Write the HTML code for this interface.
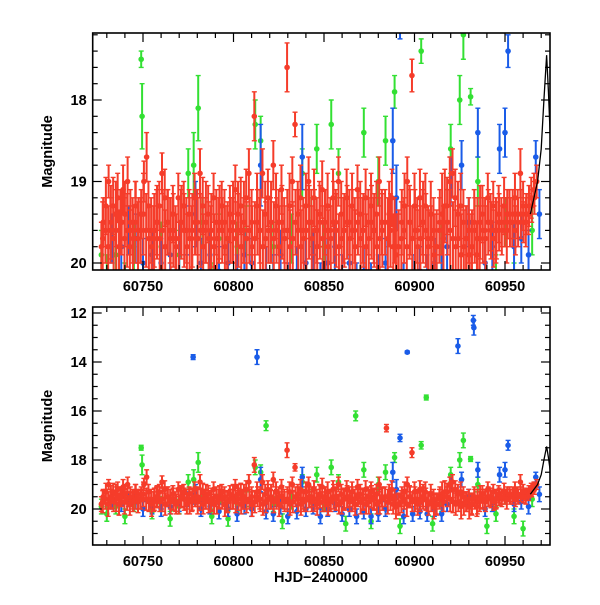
<!DOCTYPE html>
<html><head><meta charset="utf-8"><style>
body{margin:0;background:#fff}
svg text{font-family:"Liberation Sans",sans-serif;font-size:14.5px;fill:#000;font-weight:bold}
</style></head><body>
<svg id="chart" width="600" height="600" xmlns="http://www.w3.org/2000/svg"></svg>
<script>
const redT=[60727,60728,60729.5,60731,60732,60733.5,60735,60736,60737.5,60739,60740,60741.5,60743,60744.5,60746,60747.5,60749,60750.5,60752,60753,60754.5,60756,60757.5,60759,60760.5,60762,60763.5,60765,60766.5,60768,60769.5,60771,60772.5,60774,60775.5,60777,60778.5,60780,60781.5,60783,60784.5,60786,60787.5,60789,60790.5,60792,60793.5,60795,60796.5,60798,60799.5,60801,60802.5,60804,60805.5,60807,60808.5,60810,60811.5,60813,60814.5,60816,60817.5,60819,60820.5,60822,60823.5,60825,60826.5,60828,60829.6,60831,60832.5,60834,60835.5,60837,60838.5,60840,60841.5,60843,60844.5,60846,60847.5,60849,60850.5,60852,60853.5,60855,60856.5,60858,60859.5,60861,60862.5,60864,60865.5,60867,60868.5,60870,60871.5,60873,60874.5,60876,60877.5,60879,60880.5,60882,60884.5,60886,60887.5,60889,60891,60893,60894.5,60896,60897.5,60898.6,60900,60901.5,60903,60904.5,60906,60907.5,60909,60910.5,60912,60914,60916,60918,60919.5,60921,60922.5,60924,60925.5,60927,60928.5,60930,60931.5,60933,60934.5,60936,60937.5,60939,60940.5,60942,60943.5,60945,60946.5,60948,60949.5,60951,60952.5,60954,60955.5,60957,60958.5,60960,60961.5,60963,60964.5,60966,60967.5];
const redM=[19.8,19.5,19.3,19.0,19.6,19.3,19.4,19.2,19.5,19.1,19.4,19.0,19.5,19.7,19.3,19.6,19.4,19.0,18.7,19.3,19.6,19.7,19.5,19.3,18.9,19.2,19.5,19.6,19.4,19.7,19.2,19.5,19.3,19.6,19.4,19.7,19.2,19.5,18.9,19.3,19.6,19.4,19.7,19.2,19.5,19.6,19.3,19.5,19.7,19.4,19.6,19.1,19.4,19.3,19.6,19.2,18.9,19.5,18.2,19.3,19.6,18.9,19.4,19.2,19.6,18.8,19.3,19.5,19.1,19.6,17.6,19.3,19.0,18.3,19.4,19.2,19.6,19.3,19.0,19.5,19.2,19.6,19.4,19.1,19.5,19.3,19.6,19.2,19.5,19.0,19.4,19.6,19.2,19.5,19.3,19.6,19.1,19.4,19.6,19.2,19.5,19.3,19.6,19.4,19.0,19.5,16.7,19.4,19.2,19.6,19.8,19.5,19.3,19.0,19.5,17.7,19.3,19.6,19.2,19.5,19.3,19.7,19.4,19.6,19.8,19.5,19.7,19.3,19.0,18.9,19.2,19.4,19.3,19.5,19.7,19.6,19.8,19.5,19.9,19.7,19.4,19.6,19.2,19.5,19.3,19.6,19.4,19.5,19.3,19.6,19.4,19.5,19.2,19.4,18.9,19.3,19.5,19.4,19.2,19.1,19.0];
const redE=[.3,.3,.35,.2,.4,.35,.4,.3,.4,.3,.4,.3,.4,.4,.3,.4,.3,.25,.3,.3,.4,.4,.4,.3,.25,.35,.4,.4,.35,.4,.3,.4,.3,.4,.3,.4,.3,.4,.3,.35,.4,.35,.4,.3,.4,.4,.3,.4,.4,.35,.4,.3,.4,.35,.4,.35,.3,.4,.3,.4,.4,.3,.4,.35,.4,.3,.4,.4,.3,.4,.3,.4,.3,.15,.4,.4,.4,.4,.3,.4,.35,.4,.4,.35,.4,.4,.4,.35,.4,.3,.4,.4,.35,.4,.4,.4,.3,.4,.4,.35,.4,.4,.4,.4,.3,.4,.15,.4,.35,.4,.4,.4,.4,.3,.4,.2,.4,.4,.35,.4,.4,.4,.4,.4,.4,.4,.4,.35,.3,.3,.35,.4,.4,.4,.4,.4,.4,.4,.4,.4,.35,.4,.3,.35,.3,.4,.35,.3,.35,.4,.3,.3,.3,.3,.3,.3,.3,.25,.25,.2,.2];
const redT2=[60727.75,60729.25,60730.75,60732.25,60733.75,60735.25,60736.75,60738.25,60739.75,60741.25,60742.75,60744.25,60745.75,60747.25,60748.75,60750.25,60751.75,60753.25,60754.75,60756.25,60757.75,60759.25,60760.75,60762.25,60763.75,60765.25,60766.75,60768.25,60769.75,60771.25,60772.75,60774.25,60775.75,60777.25,60778.75,60780.25,60781.75,60783.25,60784.75,60786.25,60787.75,60789.25,60790.75,60792.25,60793.75,60795.25,60796.75,60798.25,60799.75,60801.25,60802.75,60804.25,60805.75,60807.25,60808.75,60810.25,60811.75,60813.25,60814.75,60816.25,60817.75,60819.25,60820.75,60822.25,60823.75,60825.25,60826.75,60828.25,60829.75,60831.25,60832.75,60834.25,60835.75,60837.25,60838.75,60840.25,60841.75,60843.25,60844.75,60846.25,60847.75,60849.25,60850.75,60852.25,60853.75,60855.25,60856.75,60858.25,60859.75,60861.25,60862.75,60864.25,60865.75,60867.25,60868.75,60870.25,60871.75,60873.25,60874.75,60876.25,60877.75,60879.25,60880.75,60882.25,60883.75,60885.25,60886.75,60888.25,60889.75,60891.25,60892.75,60894.25,60895.75,60897.25,60898.75,60900.25,60901.75,60903.25,60904.75,60906.25,60907.75,60909.25,60910.75,60912.25,60913.75,60915.25,60916.75,60918.25,60919.75,60921.25,60922.75,60924.25,60925.75,60927.25,60928.75,60930.25,60931.75,60933.25,60934.75,60936.25,60937.75,60939.25,60940.75,60942.25,60943.75,60945.25,60946.75,60948.25,60949.75,60951.25,60952.75,60954.25,60955.75,60957.25,60958.75,60960.25,60961.75,60963.25,60964.75,60966.25];
const redM2=[19.7,19.6,19.8,19.5,19.7,19.6,19.8,19.5,19.7,19.6,
19.8,19.6,19.5,19.7,19.6,19.4,19.6,19.7,19.8,19.6,
19.5,19.7,19.6,19.8,19.5,19.7,19.6,19.8,19.7,19.5,
19.6,19.8,19.7,19.6,19.5,19.7,19.6,19.8,19.5,19.7,
19.6,19.8,19.7,19.5,19.6,19.8,19.7,19.6,19.5,19.7,
19.6,19.8,19.5,19.7,19.6,19.8,19.7,19.5,19.6,19.8,
19.7,19.6,19.5,19.7,19.6,19.8,19.5,19.7,19.6,19.8,
19.7,19.5,19.6,19.8,19.7,19.6,19.5,19.7,19.6,19.8,
19.5,19.7,19.6,19.8,19.7,19.5,19.6,19.8,19.7,19.6,
19.5,19.7,19.6,19.8,19.5,19.7,19.6,19.8,19.7,19.5,
19.6,19.8,19.7,19.6,19.5,19.7,19.6,19.8,19.9,19.8,
19.7,19.6,19.8,19.5,19.7,19.6,19.8,19.7,19.5,19.6,
19.8,19.7,19.9,19.8,19.6,19.4,19.3,19.5,19.6,19.7,
19.8,19.7,19.9,19.8,19.7,19.9,19.8,19.6,19.7,19.5,
19.6,19.7,19.5,19.6,19.7,19.6,19.5,19.6,19.5,19.4,
19.5,19.4,19.6,19.5,19.4,19.5,19.4,19.3,19.3,19.2];
const redE2=[.45,.4,.5,.45,.4,.5,.45,.4,.5,.45,
.45,.4,.5,.45,.4,.5,.45,.4,.5,.45,
.45,.4,.5,.45,.4,.5,.45,.4,.5,.45,
.45,.4,.5,.45,.4,.5,.45,.4,.5,.45,
.45,.4,.5,.45,.4,.5,.45,.4,.5,.45,
.45,.4,.5,.45,.4,.5,.45,.4,.5,.45,
.45,.4,.5,.45,.4,.5,.45,.4,.5,.45,
.45,.4,.5,.45,.4,.5,.45,.4,.5,.45,
.45,.4,.5,.45,.4,.5,.45,.4,.5,.45,
.45,.4,.5,.45,.4,.5,.45,.4,.5,.45,
.45,.4,.5,.45,.4,.5,.45,.4,.5,.45,
.45,.4,.5,.45,.4,.5,.45,.4,.5,.45,
.45,.4,.5,.45,.4,.5,.45,.4,.5,.45,
.45,.4,.5,.45,.4,.5,.45,.4,.5,.45,
.4,.4,.4,.35,.35,.35,.35,.3,.3,.3,
.3,.3,.3,.3,.3,.25,.25,.25,.2,.2];
const greenT=[60727,60730,60735,60740,60745,60749,60749.5,60755,60760,60765,60770,60775,60778,60780.5,60783,60788,60792,60797,60802,60807,60812,60815,60818,60822,60827,60832,60838,60843,60846,60850,60854,60858,60862,60867.5,60872,60876,60880,60884,60889,60892,60903.7,60906.5,60910,60915,60920,60925,60927,60931,60935,60940,60945,60950,60955,60960,60965];
const greenM=[19.9,20.2,19.9,20.3,19.8,17.5,18.2,20.1,19.8,20.4,19.9,18.9,18.8,18.1,19.5,20.3,19.7,20.4,19.8,19.6,18.3,18.5,16.6,19.8,20.5,19.7,18.9,19.5,18.6,19.8,18.3,18.9,20.6,16.2,18.4,20.5,19.0,18.5,17.9,20.7,17.4,15.45,20.6,19.8,18.6,18.0,17.2,17.96,19.0,20.7,20.2,19.5,20.3,20.8,19.6];
const greenE=[.3,.3,.3,.3,.3,.1,.4,.3,.3,.3,.3,.3,.4,.4,.3,.3,.3,.3,.3,.3,.3,.3,.2,.3,.3,.3,.3,.3,.3,.3,.3,.3,.3,.2,.3,.3,.3,.3,.2,.3,.15,.1,.3,.3,.3,.3,.3,.1,.3,.3,.3,.3,.3,.3,.3];
const blueT=[60733,60738,60742,60746,60750,60755,60760,60765,60770,60774,60777.7,60779,60782,60787,60792,60797,60802,60806,60810,60813,60815,60818,60822,60826,60830,60835,60838,60840,60844,60848,60852,60856,60860,60864,60868,60872,60876,60880,60884,60888,60890,60892,60894,60896,60899,60903,60907,60911,60915,60918,60920,60924,60926,60930,60932.5,60932.8,60935,60939,60943,60947,60950,60951.7,60955,60959,60963,60967,60969];
const blueM=[19.7,19.8,19.6,19.7,20.0,19.9,20.0,19.9,19.8,19.6,13.8,19.4,20.0,19.9,20.1,20.0,20.2,19.9,20.0,13.8,18.8,20.1,20.2,19.9,20.3,20.1,18.7,20.0,19.9,20.3,20.0,19.8,20.2,20.0,20.3,20.1,20.3,20.2,20.0,18.5,19.2,17.1,20.3,13.6,20.2,20.1,20.2,20.0,20.2,19.8,19.0,13.35,18.8,19.5,12.3,12.6,18.4,20.0,19.8,18.6,18.4,17.4,19.8,19.7,19.9,18.7,19.4];
const blueE=[.3,.3,.3,.3,.3,.3,.3,.3,.3,.3,.1,.4,.3,.3,.3,.3,.3,.3,.3,.3,.5,.3,.3,.3,.3,.3,.4,.3,.3,.3,.3,.3,.3,.3,.3,.3,.3,.3,.3,.4,.4,.15,.3,.05,.3,.3,.3,.3,.3,.3,.3,.3,.3,.3,.2,.3,.3,.3,.3,.3,.3,.2,.3,.3,.3,.2,.3];
const modelT=[60964,60966,60968,60970,60971.5,60973,60974,60976];
const modelM=[19.4,19.2,19.0,18.6,18.0,17.45,17.9,19.0];
const xTicks=[60750,60800,60850,60900,60950];
const topYTicks=[18,19,20];
const botYTicks=[12,14,16,18,20];

const NS="http://www.w3.org/2000/svg";
const svg=document.getElementById('chart');
const X0=92.7,X1=550;
const xs=t=>143+(t-60750)*1.81;
function mk(tag,attrs,parent){const e=document.createElementNS(NS,tag);for(const k in attrs)e.setAttribute(k,attrs[k]);(parent||svg).appendChild(e);return e;}

const panels=[
 {name:'top',y0:33,y1:270,ys:m=>100+(m-18)*81.5,mmin:17.18,mmax:20.09,major:topYTicks,minorStep:0.2},
 {name:'bottom',y0:307,y1:545,ys:m=>313+(m-12)*24.5,mmin:11.76,mmax:21.47,major:botYTicks,minorStep:0.5}
];
const series=[
 {n:'green',T:greenT,M:greenM,E:greenE,c:'#33e033'},
 {n:'blue',T:blueT,M:blueM,E:blueE,c:'#1a5ce8'},
 {n:'red',T:redT2,M:redM2,E:redE2,c:'#f53c2a'},
 {n:'red',T:redT,M:redM,E:redE,c:'#f53c2a'}
];
panels.forEach((p,pi)=>{
  const g=mk('g',{});
  
  
  const cp=mk('clipPath',{id:'clip'+pi},g);
  mk('rect',{x:X0,y:p.y0,width:X1-X0,height:p.y1-p.y0},cp);
  const dg=mk('g',{'clip-path':'url(#clip'+pi+')'},g);
  series.forEach(s=>{
    const sg=mk('g',{},dg);
    
    
    s.T.forEach((t,i)=>{
      const x=xs(t),y=p.ys(s.M[i]),ya=p.ys(s.M[i]-s.E[i]),yb=p.ys(s.M[i]+s.E[i]);
      const pt=mk('g',{},sg);
      
      
      mk('line',{x1:x,x2:x,y1:ya,y2:yb,stroke:s.c,'stroke-width':2},pt);
      mk('line',{x1:x-2.5,x2:x+2.5,y1:ya,y2:ya,stroke:s.c,'stroke-width':1.4},pt);
      mk('line',{x1:x-2.5,x2:x+2.5,y1:yb,y2:yb,stroke:s.c,'stroke-width':1.4},pt);
      mk('circle',{cx:x,cy:y,r:2.8,fill:s.c},pt);
    });
  });
  const ml=mk('polyline',{points:modelT.map((t,i)=>xs(t)+','+p.ys(modelM[i])).join(' '),fill:'none',stroke:'#000','stroke-width':1.3},dg);
  
  
  const fr=mk('rect',{x:X0,y:p.y0,width:X1-X0,height:p.y1-p.y0,fill:'none',stroke:'#000','stroke-width':1.6},g);
  
  
  for(let t=60730;t<=60970;t+=10){
    const x=xs(t),maj=(t%50===0),L=maj?9:5;
    mk('line',{x1:x,x2:x,y1:p.y1,y2:p.y1-L,stroke:'#000','stroke-width':1.2},g);
    mk('line',{x1:x,x2:x,y1:p.y0,y2:p.y0+L,stroke:'#000','stroke-width':1.2},g);
  }
  xTicks.forEach(t=>{
    const tx=mk('text',{x:xs(t),y:p.y1+21,'text-anchor':'middle'},g);
    tx.textContent=t;
    
    
  });
  const n=Math.round((p.mmax-p.mmin)/p.minorStep)+2;
  const start=Math.ceil(p.mmin/p.minorStep)*p.minorStep;
  for(let k=0;k<n;k++){
    const m=+(start+k*p.minorStep).toFixed(3);
    if(m>p.mmax)break;
    const y=p.ys(m),maj=p.major.includes(m),L=maj?9:5;
    mk('line',{x1:X0,x2:X0+L,y1:y,y2:y,stroke:'#000','stroke-width':1.2},g);
    mk('line',{x1:X1,x2:X1-L,y1:y,y2:y,stroke:'#000','stroke-width':1.2},g);
  }
  p.major.forEach(m=>{
    const tx=mk('text',{x:X0-6,y:p.ys(m)+5,'text-anchor':'end'},g);
    tx.textContent=m;
    
    
  });
  const yc=(p.y0+p.y1)/2;
  const yl=mk('text',{x:52,y:yc,'text-anchor':'middle',transform:'rotate(-90 52 '+yc+')'},g);
  yl.textContent='Magnitude';
  
  
});
const xl=mk('text',{x:321,y:582,'text-anchor':'middle'});
xl.textContent='HJD\u22122400000';


</script>
</body></html>
